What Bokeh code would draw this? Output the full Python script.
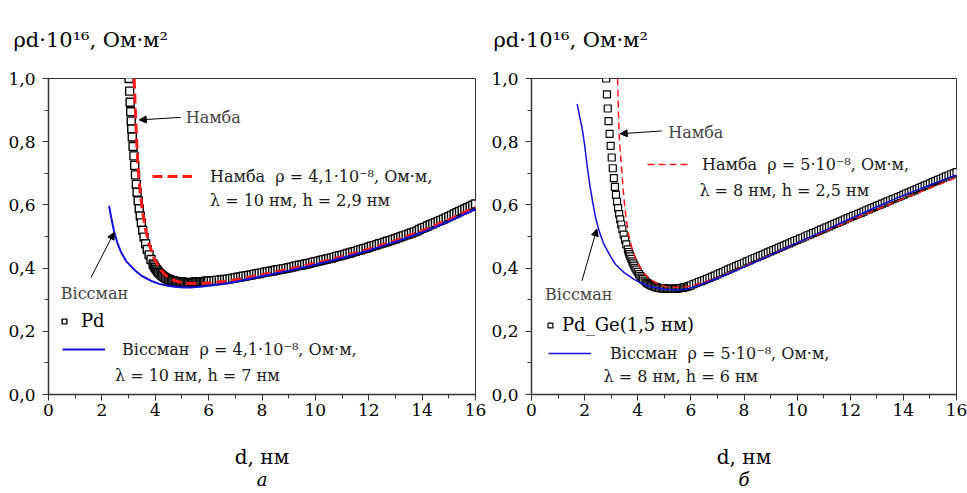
from bokeh.plotting import figure
from bokeh.layouts import row
from bokeh.models import (FixedTicker, Label, Arrow, NormalHead, Legend, LegendItem, Range1d, Title)
from bokeh.embed import file_html
from bokeh.resources import INLINE

# ---------------- data: panel a (Pd) ----------------
pd_d = [3.02, 3.04, 3.06, 3.08, 3.10, 3.12, 3.14, 3.17, 3.20, 3.23, 3.26, 3.29, 3.32, 3.36,
        3.40, 3.44, 3.48, 3.53, 3.58, 3.64, 3.70, 3.77, 3.84, 3.92, 3.96, 4.00, 4.04, 4.09, 4.13,
        4.18, 4.23, 4.28, 4.33, 4.39, 4.44,
        4.50, 4.55, 4.60, 4.65, 4.70, 4.75, 4.80, 4.85, 4.90, 4.95, 5.00, 5.05, 5.10, 5.15, 5.20,
        5.25, 5.30, 5.35, 5.40, 5.45, 5.50, 5.55, 5.60, 5.65, 5.70, 5.75, 5.80, 5.85, 5.90, 5.95,
        6.0, 6.1, 6.2, 6.3, 6.4, 6.5, 6.6, 6.7, 6.8, 6.9,
        7.0, 7.1, 7.2, 7.3, 7.4, 7.5, 7.6, 7.7, 7.8, 7.9,
        8.0, 8.1, 8.2, 8.3, 8.4, 8.5, 8.6, 8.7, 8.8, 8.9,
        9.0, 9.1, 9.2, 9.3, 9.4, 9.5, 9.6, 9.7, 9.8, 9.9,
        10.0, 10.1, 10.2, 10.3, 10.4, 10.5, 10.6, 10.7, 10.8, 10.9,
        11.0, 11.1, 11.2, 11.3, 11.4, 11.5, 11.6, 11.7, 11.8, 11.9,
        12.0, 12.1, 12.2, 12.3, 12.4, 12.5, 12.6, 12.7, 12.8, 12.9,
        13.0, 13.1, 13.2, 13.3, 13.4, 13.5, 13.6, 13.7, 13.8, 13.9,
        14.0, 14.1, 14.2, 14.3, 14.4, 14.5, 14.6, 14.7, 14.8, 14.9,
        15.0, 15.1, 15.2, 15.3, 15.4, 15.5, 15.6, 15.7, 15.8, 15.9, 16.0]
pd_v = [1.00, 0.96, 0.925, 0.895, 0.865, 0.84, 0.815, 0.785, 0.755, 0.725, 0.695, 0.665, 0.64, 0.613,
        0.588, 0.565, 0.543, 0.52, 0.498, 0.477, 0.459, 0.442, 0.427, 0.413, 0.407, 0.401, 0.396, 0.391, 0.386,
        0.382, 0.378, 0.375, 0.372, 0.369, 0.3665,
        0.364, 0.3625, 0.361, 0.360, 0.359, 0.358, 0.357, 0.3565, 0.356, 0.3555, 0.355, 0.355, 0.3545, 0.354, 0.354,
        0.354, 0.354, 0.354, 0.3545, 0.355, 0.355, 0.3555, 0.356, 0.356, 0.3565, 0.357, 0.357, 0.3575, 0.358, 0.3585,
        0.359, 0.359, 0.360, 0.361, 0.362, 0.363, 0.364, 0.365, 0.366, 0.368,
        0.369, 0.371, 0.372, 0.374, 0.375, 0.377, 0.378, 0.380, 0.382, 0.383,
        0.385, 0.387, 0.388, 0.390, 0.391, 0.393, 0.395, 0.396, 0.398, 0.399,
        0.401, 0.403, 0.405, 0.407, 0.409, 0.410, 0.412, 0.414, 0.416, 0.418,
        0.420, 0.422, 0.424, 0.426, 0.428, 0.430, 0.432, 0.434, 0.437, 0.439,
        0.441, 0.443, 0.446, 0.448, 0.451, 0.453, 0.456, 0.458, 0.461, 0.463,
        0.466, 0.469, 0.471, 0.474, 0.477, 0.479, 0.482, 0.485, 0.487, 0.490,
        0.493, 0.496, 0.499, 0.502, 0.505, 0.508, 0.511, 0.514, 0.517, 0.522,
        0.526, 0.529, 0.533, 0.537, 0.540, 0.544, 0.548, 0.551, 0.555, 0.559,
        0.563, 0.567, 0.571, 0.575, 0.579, 0.583, 0.587, 0.591, 0.595, 0.599, 0.603]

namba_a_d = [3.21, 3.24, 3.27, 3.31, 3.36, 3.44, 3.52, 3.64, 3.77, 3.95, 4.14, 4.35, 4.58, 4.9,
             5.21, 5.5, 5.83, 6.2, 6.6, 7.0, 8.0, 9.0, 10.0, 11.0, 12.0, 13.0, 14.0, 15.0, 16.0]
namba_a_v = [1.0, 0.93, 0.867, 0.79, 0.708, 0.635, 0.582, 0.52, 0.476, 0.432, 0.402, 0.38, 0.365, 0.356,
             0.352, 0.351, 0.352, 0.354, 0.358, 0.363, 0.379, 0.396, 0.415, 0.436, 0.46, 0.487, 0.518, 0.553, 0.593]

wiss_a_d = [2.27, 2.35, 2.46, 2.58, 2.71, 2.9, 3.21, 3.5, 3.83, 4.15, 4.46, 4.8, 5.08, 5.4, 5.71,
            6.0, 6.33, 6.7, 7.0, 8.0, 9.0, 10.0, 11.0, 12.0, 13.0, 14.0, 15.0, 16.0]
wiss_a_v = [0.597, 0.56, 0.515, 0.48, 0.452, 0.423, 0.395, 0.375, 0.36, 0.35, 0.344, 0.34, 0.339, 0.339, 0.341,
            0.344, 0.347, 0.352, 0.357, 0.374, 0.392, 0.411, 0.432, 0.456, 0.483, 0.513, 0.548, 0.587]

# ---------------- data: panel b (Pd_Ge) ----------------
pdge_d = [2.81, 2.84, 2.87, 2.90, 2.94, 2.98, 3.02, 3.06, 3.10, 3.14, 3.18, 3.22, 3.26, 3.30, 3.34,
          3.38, 3.42, 3.47, 3.52, 3.57, 3.63, 3.66, 3.69, 3.72, 3.76, 3.80, 3.83, 3.87, 3.91, 3.95,
          4.0, 4.05, 4.1, 4.15, 4.2, 4.26, 4.32, 4.36,
          4.40, 4.45, 4.50, 4.55, 4.60, 4.65, 4.70, 4.75, 4.80, 4.85, 4.90, 4.95, 5.00, 5.05, 5.10,
          5.15, 5.20, 5.25, 5.30, 5.35, 5.40, 5.45, 5.50, 5.55, 5.60, 5.65, 5.70, 5.75, 5.80, 5.85,
          5.90, 5.95,
          6.0, 6.1, 6.2, 6.3, 6.4, 6.5, 6.6, 6.7, 6.8, 6.9,
          7.0, 7.1, 7.2, 7.3, 7.4, 7.5, 7.6, 7.7, 7.8, 7.9,
          8.0, 8.1, 8.2, 8.3, 8.4, 8.5, 8.6, 8.7, 8.8, 8.9,
          9.0, 9.1, 9.2, 9.3, 9.4, 9.5, 9.6, 9.7, 9.8, 9.9,
          10.0, 10.1, 10.2, 10.3, 10.4, 10.5, 10.6, 10.7, 10.8, 10.9,
          11.0, 11.1, 11.2, 11.3, 11.4, 11.5, 11.6, 11.7, 11.8, 11.9,
          12.0, 12.1, 12.2, 12.3, 12.4, 12.5, 12.6, 12.7, 12.8, 12.9,
          13.0, 13.1, 13.2, 13.3, 13.4, 13.5, 13.6, 13.7, 13.8, 13.9,
          14.0, 14.1, 14.2, 14.3, 14.4, 14.5, 14.6, 14.7, 14.8, 14.9,
          15.0, 15.1, 15.2, 15.3, 15.4, 15.5, 15.6, 15.7, 15.8, 15.9, 16.0]
pdge_v = [1.0, 0.95, 0.905, 0.865, 0.825, 0.787, 0.75, 0.716, 0.685, 0.657, 0.632, 0.61, 0.59, 0.571, 0.554,
          0.538, 0.523, 0.506, 0.49, 0.475, 0.459, 0.451, 0.444, 0.437, 0.429, 0.421, 0.415, 0.408, 0.401, 0.395,
          0.388, 0.381, 0.375, 0.370, 0.365, 0.360, 0.355, 0.3525,
          0.350, 0.348, 0.346, 0.344, 0.342, 0.341, 0.339, 0.338, 0.337, 0.3365, 0.336, 0.3355, 0.335, 0.335, 0.3345,
          0.334, 0.334, 0.334, 0.334, 0.334, 0.3345, 0.335, 0.335, 0.336, 0.337, 0.337, 0.338, 0.339, 0.340, 0.341,
          0.342, 0.3435,
          0.345, 0.349, 0.352, 0.356, 0.359, 0.362, 0.366, 0.369, 0.373, 0.376,
          0.380, 0.384, 0.387, 0.391, 0.395, 0.399, 0.402, 0.406, 0.410, 0.413,
          0.417, 0.421, 0.424, 0.428, 0.432, 0.435, 0.439, 0.442, 0.446, 0.450,
          0.453, 0.457, 0.460, 0.464, 0.468, 0.471, 0.475, 0.478, 0.482, 0.486,
          0.489, 0.493, 0.496, 0.500, 0.504, 0.507, 0.511, 0.514, 0.518, 0.522,
          0.525, 0.529, 0.532, 0.536, 0.540, 0.543, 0.547, 0.550, 0.554, 0.558,
          0.561, 0.565, 0.568, 0.572, 0.575, 0.579, 0.583, 0.586, 0.590, 0.593,
          0.597, 0.600, 0.604, 0.607, 0.611, 0.614, 0.618, 0.621, 0.625, 0.628,
          0.632, 0.636, 0.639, 0.643, 0.646, 0.650, 0.654, 0.657, 0.661, 0.664,
          0.668, 0.672, 0.675, 0.679, 0.682, 0.686, 0.690, 0.693, 0.697, 0.700, 0.704]

namba_b_d = [3.24, 3.27, 3.30, 3.35, 3.40, 3.45, 3.50, 3.57, 3.65, 3.77, 3.9, 4.07, 4.27, 4.5, 4.77,
             5.05, 5.4, 5.7, 6.02, 6.5, 7.0, 8.0, 9.0, 10.0, 11.0, 12.0, 13.0, 14.0, 15.0, 16.0]
namba_b_v = [1.0, 0.9, 0.825, 0.76, 0.708, 0.65, 0.603, 0.553, 0.508, 0.467, 0.434, 0.405, 0.381, 0.363, 0.349,
             0.342, 0.339, 0.34, 0.344, 0.356, 0.37, 0.405, 0.442, 0.479, 0.515, 0.55, 0.585, 0.62, 0.653, 0.687]

wiss_b_d = [1.72, 1.8, 1.9, 2.0, 2.1, 2.2, 2.3, 2.4, 2.53, 2.7, 2.9, 3.15, 3.5, 3.85, 4.15, 4.5,
            5.0, 5.5, 5.8, 6.2, 6.6, 7.0, 8.0, 9.0, 10.0, 11.0, 12.0, 13.0, 14.0, 15.0, 16.0]
wiss_b_v = [0.92, 0.885, 0.845, 0.79, 0.72, 0.66, 0.61, 0.565, 0.522, 0.48, 0.448, 0.413, 0.385, 0.365, 0.351, 0.341,
            0.333, 0.331, 0.333, 0.342, 0.355, 0.368, 0.403, 0.441, 0.48, 0.518, 0.556, 0.594, 0.63, 0.663, 0.695]

# ---------------- ticks / labels ----------------
x_major = [0, 2, 4, 6, 8, 10, 12, 14, 16]
x_minor = [1, 3, 5, 7, 9, 11, 13, 15]
y_major = [0.0, 0.2, 0.4, 0.6, 0.8, 1.0]
y_minor = [0.1, 0.3, 0.5, 0.7, 0.9]
y_labels = ["0,0", "0,2", "0,4", "0,6", "0,8", "1,0"]
y_title = "ρd·10¹⁶, Ом·м²"
x_title = "d, нм"

SERIF = "DejaVu Serif"
TXT = "#1a1a1a"
LEG_FS = "16px"


def make_panel(width, border_left, border_right, sq_d, sq_v, sq_size, sq_lw, nam_d, nam_v, nam_w,
               nam_dash, wis_d, wis_v, wis_w, cfg):
    p = figure(width=width, height=493, output_backend="svg", toolbar_location=None,
               x_range=Range1d(0, 16), y_range=Range1d(0, 1.0),
               min_border_left=border_left, min_border_right=border_right,
               min_border_top=78, min_border_bottom=99)
    p.grid.visible = False
    p.outline_line_color = "#333333"
    p.outline_line_width = 1
    p.background_fill_color = "white"
    p.border_fill_color = "white"

    # y-axis title placed as the plot title (above, shifted to the left)
    p.title.text = y_title
    p.title.text_font = SERIF
    p.title.text_font_size = "21px"
    p.title.text_font_style = "normal"
    p.title.text_color = "black"
    p.title.align = "left"
    p.title.vertical_align = "middle"
    p.title.offset = cfg["title_offset"]
    p.title.standoff = 52

    p.xaxis.ticker = FixedTicker(ticks=x_major, minor_ticks=x_minor)
    p.yaxis.ticker = FixedTicker(ticks=y_major, minor_ticks=y_minor)
    p.yaxis.major_label_overrides = {v: s for v, s in zip(y_major, y_labels)}
    for ax in (p.xaxis[0], p.yaxis[0]):
        ax.axis_line_color = "#333333"
        ax.axis_line_width = 1.5
        ax.major_tick_line_color = "#333333"
        ax.minor_tick_line_color = "#333333"
        ax.major_tick_out = 6
        ax.major_tick_in = 0
        ax.minor_tick_out = 4
        ax.minor_tick_in = 0
        ax.major_label_text_font = SERIF
        ax.major_label_text_font_size = "17px"
        ax.major_label_text_color = "black"
    p.xaxis.major_label_standoff = 3
    p.yaxis.major_label_standoff = 7

    p.xaxis.axis_label = x_title
    p.xaxis.axis_label_text_font = SERIF
    p.xaxis.axis_label_text_font_size = "20px"
    p.xaxis.axis_label_text_font_style = "normal"
    p.xaxis.axis_label_text_color = "black"
    p.xaxis.axis_label_standoff = 26

    p.add_layout(Title(text=cfg["panel"], text_font=SERIF, text_font_style="italic",
                       text_font_size="18px", text_color="black", align="center", standoff=-10),
                 "below")

    sq = p.scatter(sq_d, sq_v, marker="square", size=sq_size, fill_color="white",
                   line_color="black", line_width=sq_lw)
    nm = p.line(nam_d, nam_v, line_color="#ff1a1a", line_width=nam_w, line_dash=nam_dash)
    ws = p.line(wis_d, wis_v, line_color="#1010e0", line_width=wis_w)

    def leg(item_r, label, loc, gw, standoff, fs=LEG_FS, color=TXT):
        lg = Legend(items=[LegendItem(label=label, renderers=[item_r])], location=loc,
                    orientation="vertical", glyph_width=gw, glyph_height=20, label_height=20,
                    label_standoff=standoff, padding=0, margin=0, spacing=0,
                    background_fill_alpha=0, border_line_alpha=0,
                    label_text_font=SERIF, label_text_font_size=fs,
                    label_text_color=color)
        p.add_layout(lg, "center")
        return lg

    leg(nm, cfg["nam_leg"], cfg["nam_loc"], cfg["nam_gw"], cfg["nam_so"])
    leg(sq, cfg["sq_leg"], cfg["sq_loc"], 12, cfg["sq_so"], fs="18px", color="black")
    leg(ws, cfg["wis_leg"], cfg["wis_loc"], 43, cfg["wis_so"])

    for (x, y, t) in cfg["line2"]:
        p.add_layout(Label(x=x, y=y, text=t, text_font=SERIF, text_font_size=LEG_FS,
                           text_color=TXT, text_baseline="middle", text_align="left"))

    for (tx, ty, t, ax0, ay0, ax1, ay1) in cfg["notes"]:
        p.add_layout(Label(x=tx, y=ty, text=t, text_font=SERIF, text_font_size="16px",
                           text_color="#444444", text_baseline="middle", text_align="left"))
        p.add_layout(Arrow(x_start=ax0, y_start=ay0, x_end=ax1, y_end=ay1, line_width=1,
                           line_color="black",
                           end=NormalHead(size=7, fill_color="black", line_color="black")))
    return p


cfg_a = dict(
    nam_leg="Намба  ρ = 4,1·10⁻⁸, Ом·м,", nam_loc=(104, 208), nam_gw=40, nam_so=18,
    sq_leg="Pd", sq_loc=(10, 63), sq_so=11,
    wis_leg="Віссман  ρ = 4,1·10⁻⁸, Ом·м,", wis_loc=(14, 35), wis_so=17,
    line2=[(6.05, 0.613, "λ = 10 нм, h = 2,9 нм"), (2.49, 0.0586, "λ = 10 нм, h = 7 нм")],
    notes=[(5.14, 0.876, "Намба", 4.96, 0.877, 3.4, 0.869),
           (0.46, 0.3186, "Віссман", 1.59, 0.37, 2.46, 0.513)],
    title_offset=-35, panel="а",
)
cfg_b = dict(
    nam_leg="Намба  ρ = 5·10⁻⁸, Ом·м,", nam_loc=(116, 220), nam_gw=42, nam_so=13,
    sq_leg="Pd_Ge(1,5 нм)", sq_loc=(13, 59), sq_so=6,
    wis_leg="Віссман  ρ = 5·10⁻⁸, Ом·м,", wis_loc=(17, 31), wis_so=19,
    line2=[(6.32, 0.647, "λ = 8 нм, h = 2,5 нм"), (2.71, 0.0555, "λ = 8 нм, h = 6 нм")],
    notes=[(5.15, 0.83, "Намба", 4.9, 0.834, 3.34, 0.825),
           (0.51, 0.3176, "Віссман", 1.9, 0.36, 2.46, 0.524)],
    title_offset=-38, panel="б",
)

p1 = make_panel(488, 48, 13, pd_d, pd_v, 8, 1.4, namba_a_d, namba_a_v, 3, "10 5",
                wiss_a_d, wiss_a_v, 2, cfg_a)
p2 = make_panel(479, 41, 11, pdge_d, pdge_v, 7, 1.2, namba_b_d, namba_b_v, 1.5, "7 4",
                wiss_b_d, wiss_b_v, 1.5, cfg_b)

layout = row(p1, p2)
open("out.html", "w").write(file_html(layout, INLINE))
